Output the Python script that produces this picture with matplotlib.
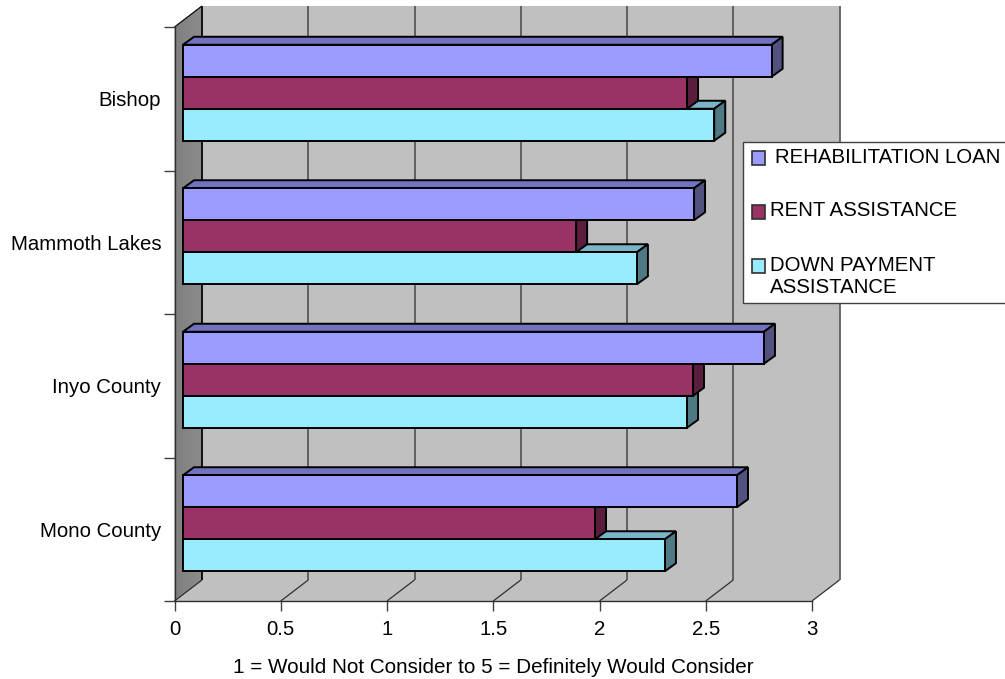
import matplotlib
matplotlib.use("Agg")
import matplotlib.pyplot as plt
from matplotlib.patches import Polygon, Rectangle
from matplotlib.transforms import Affine2D

plt.rcParams['font.family'] = ['Liberation Sans', 'DejaVu Sans']

categories = ["Bishop", "Mammoth Lakes", "Inyo County", "Mono County"]
rehab = [2.77, 2.405, 2.734, 2.607]
rent = [2.372, 1.85, 2.40, 1.939]
down = [2.50, 2.136, 2.372, 2.268]
series_names = [" REHABILITATION LOAN", "RENT ASSISTANCE", "DOWN PAYMENT\nASSISTANCE"]
x_ticks = [0, 0.5, 1, 1.5, 2, 2.5, 3]
x_tick_labels = ["0", "0.5", "1", "1.5", "2", "2.5", "3"]
x_title = "1 = Would Not Consider to 5 = Definitely Would Consider"

W, H = 1005, 679
L, R, T, B = 174.5, 812.0, 27.0, 601.0
FS = 14.7
fig = plt.figure(figsize=(W / 100, H / 100), dpi=100, facecolor="white")
ax = fig.add_axes([L / W, 1 - B / H, (R - L) / W, (B - T) / H])
ax.set_xlim(0, 3)
ax.set_ylim(4, 0)
ax.patch.set_visible(False)

px = 3 / (R - L)          # data units per pixel, x
py = 4 / (B - T)          # data units per pixel, y
WX, WY = 27.5 * px, 21 * py      # wall depth
DX, DY = 11 * px, 8 * py         # bar depth
X0 = 8.5 * px             # bar front offset from axis


def poly(pts, fc, ec="none", lw=0, z=1):
    ax.add_patch(Polygon(pts, closed=True, facecolor=fc, edgecolor=ec,
                         linewidth=lw, zorder=z, clip_on=False, joinstyle="miter"))


def line(xs, ys, c="#404040", lw=1.1, z=2):
    ax.plot(xs, ys, color=c, lw=lw, zorder=z, clip_on=False, solid_capstyle="butt")


# back wall and floor
poly([(WX, -WY), (3 + WX, -WY), (3 + WX, 4 - WY), (3, 4), (0, 4), (WX, 4 - WY)], "#C0C0C0")
# left wall with a soft gradient (overlapping slices so no seams show)
steps = 14
for i in range(steps):
    a, ya = WX * i / steps, WY * i / steps
    g = 0.50 + 0.05 * i / steps
    poly([(a, -ya), (WX, -WY), (WX, 4 - WY), (a, 4 - ya)], (g, g, g))

# gridlines
for v in x_ticks:
    if v > 0:
        line([v + WX] * 2, [-WY, 4 - WY], c="#505050", lw=1.2)
    line([v, v + WX], [4, 4 - WY], c="#303030", lw=0.9)
line([0 + WX] * 2, [-WY, 4 - WY], c="#101010", lw=1.4)
line([0, WX], [0, -WY], c="#101010", lw=0.9)

# bars
colors = [("#99EBFF", "#7AB4C6", "#4F7A85"),
          ("#993366", "#7A2952", "#5A1E3C"),
          ("#9C9CFF", "#7272BF", "#525280")]
values = [down, rent, rehab]
band = 32 * py
for c_idx in range(len(categories)):
    top0 = c_idx + 0.5 - 6 * py - 1.5 * band
    for s_idx, (vals, cols) in enumerate(zip(values, colors)):
        row = 2 - s_idx
        y0, y1 = top0 + row * band, top0 + (row + 1) * band
        x1 = X0 + vals[c_idx]
        kw = dict(ec="black", lw=1.4, z=5 + c_idx * 3 + s_idx)
        poly([(X0, y0), (X0 + DX, y0 - DY), (x1 + DX, y0 - DY), (x1, y0)], cols[1], **kw)
        poly([(x1, y0), (x1 + DX, y0 - DY), (x1 + DX, y1 - DY), (x1, y1)], cols[2], **kw)
        poly([(X0, y0), (x1, y0), (x1, y1), (X0, y1)], cols[0], **kw)

# axes
for s in ("top", "right"):
    ax.spines[s].set_visible(False)
for s in ("left", "bottom"):
    ax.spines[s].set_color("#303030")
    ax.spines[s].set_linewidth(1.0)
    ax.spines[s].set_zorder(3)
ax.set_xticks(x_ticks)
ax.set_xticklabels(x_tick_labels)
ax.set_yticks([0, 1, 2, 3, 4])
ax.set_yticklabels([])
ax.set_yticks([0.5, 1.5, 2.5, 3.5], minor=True)
ax.set_yticklabels(categories, minor=True)
ax.tick_params(axis="x", length=7.5, width=1, color="#404040", pad=6, labelsize=FS)
ax.tick_params(axis="y", which="major", length=8, width=1, color="#404040")
ax.tick_params(axis="y", which="minor", length=0, pad=9.5, labelsize=FS)
ax.set_xlabel(x_title, fontsize=14.85, labelpad=14.2, x=0.5)

# legend box in pixel coordinates
pix = Affine2D().scale(1, -1).translate(0, H)
fig.add_artist(Rectangle((743, 142), 270, 161, transform=pix, facecolor="white",
                         edgecolor="#404040", linewidth=1.0, clip_on=False, zorder=20))
legend_swatches = [(751.5, 151), (751.5, 205), (751.5, 259)]
legend_text = [(775, 157.7), (769.5, 211), (769.5, 276.3)]
legend_cols = [colors[2][0], colors[1][0], colors[0][0]]
for (sx, sy), (tx, ty), c, name in zip(legend_swatches, legend_text, legend_cols, series_names):
    fig.add_artist(Rectangle((sx, sy), 13.5, 13.5, transform=pix, facecolor=c,
                             edgecolor="#303030", linewidth=1.2, zorder=21))
    fig.text(tx / W, 1 - ty / H, name.strip(), fontsize=FS, va="center", ha="left",
             zorder=22, linespacing=1.2)

fig.savefig("out.png", dpi=100, facecolor="white")
